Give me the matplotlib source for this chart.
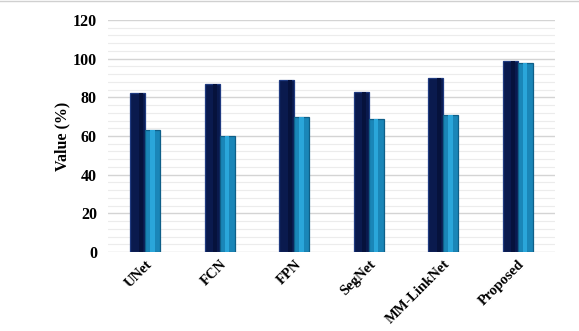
import numpy as np
import matplotlib.pyplot as plt
from matplotlib.lines import Line2D

models = ['UNet', 'FCN', 'FPN', 'SegNet', 'MM-LinkNet', 'Proposed']
series_a = [82, 87, 89, 83, 90, 99]
series_b = [63, 60, 70, 69, 71, 98]

plt.rcParams['font.family'] = ['Liberation Serif', 'DejaVu Serif']
plt.rcParams['font.weight'] = 'bold'

fig = plt.figure(figsize=(5.79, 3.31), dpi=100)
ax = fig.add_axes([108 / 579, 1 - 252 / 331, 447 / 579, 232 / 331])

x = np.arange(len(models))
w = 0.2

# minor and major grid lines
ax.set_yticks(np.arange(0, 121, 4), minor=True)
ax.yaxis.grid(True, which='minor', color='#ececec', linewidth=0.8)
ax.yaxis.grid(True, which='major', color='#d4d4d4', linewidth=1.0)
ax.set_axisbelow(True)

# bars with a simple shading to mimic the 3D look
ax.bar(x - w / 2, series_a, w, color='#0a1a4e', edgecolor='#1f3a80', linewidth=0.9)
ax.bar(x - w / 2 + w * 0.2, series_a, w * 0.25, color='#06123c', linewidth=0)
ax.bar(x + w / 2, series_b, w, color='#1a86b8', edgecolor='#0f5f88', linewidth=0.9)
ax.bar(x + w / 2, series_b, w * 0.3, color='#2aa6da', linewidth=0)

ax.set_xlim(-0.5, len(models) - 0.5)
ax.set_ylim(0, 120)
ax.set_yticks(np.arange(0, 121, 20))
ax.set_xticks(x)
ax.set_xticklabels(models, rotation=45, ha='right', rotation_mode='anchor', fontsize=10.5)
ax.tick_params(axis='y', labelsize=11.5, length=0, pad=8)
ax.tick_params(axis='x', length=0, pad=4)
ax.tick_params(which='minor', length=0)
for s in ax.spines.values():
    s.set_visible(False)
ax.set_ylabel('Value (%)', fontsize=11.5, fontweight='bold', labelpad=2)

fig.add_artist(Line2D([0, 1], [0.996, 0.996], color='#d0d0d0', linewidth=1, transform=fig.transFigure))

fig.savefig('out.png', dpi=100)
